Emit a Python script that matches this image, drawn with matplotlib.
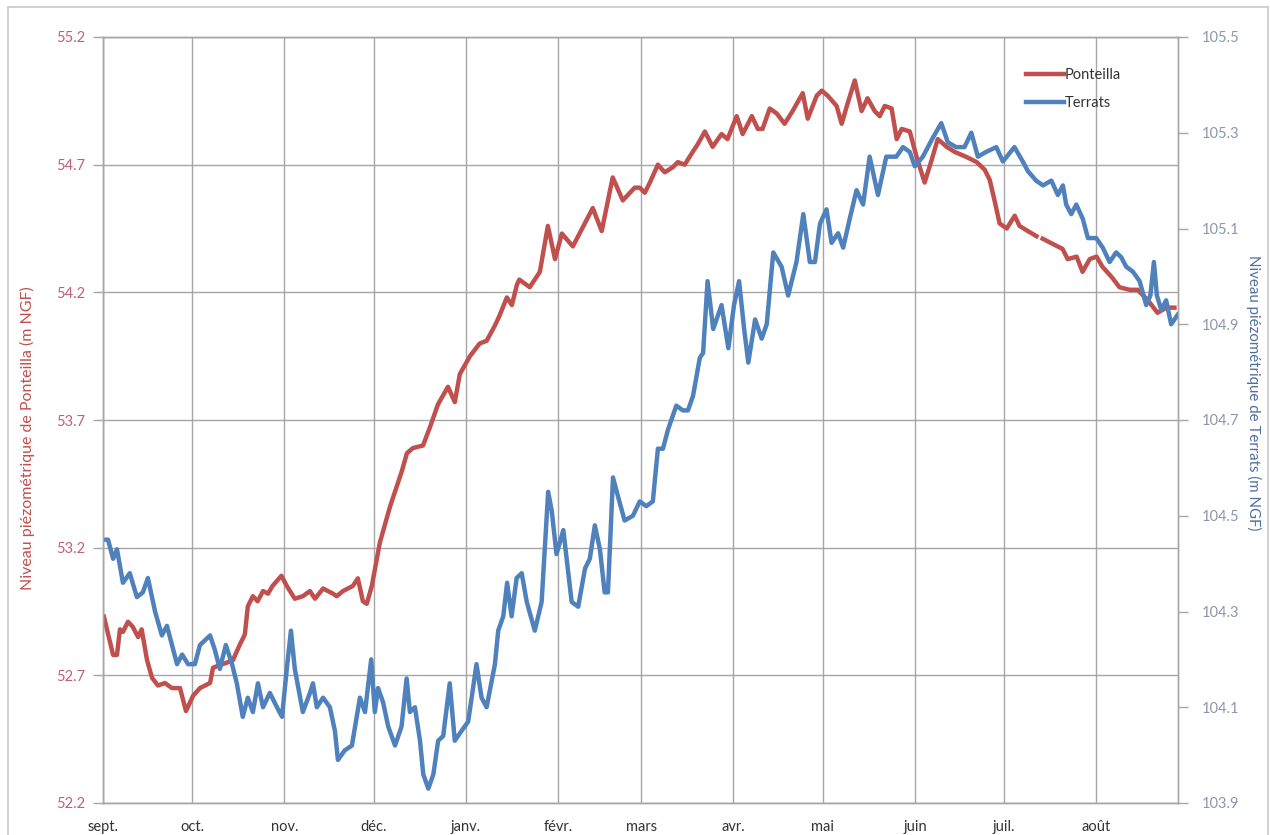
import numpy as np
import matplotlib
matplotlib.use("Agg")
import matplotlib.pyplot as plt
from matplotlib.patches import Rectangle

# ---- data (day offset from 1 Sept, value) ----
month_days = [0, 30, 61, 91, 122, 153, 181, 212, 242, 273, 303, 334]
month_labels = ["sept.", "oct.", "nov.", "déc.", "janv.", "févr.", "mars",
                "avr.", "mai", "juin", "juil.", "août"]

pont_days = [0.3, 3.4, 4.7, 5.7, 6.7, 8.4, 10, 11.8, 13, 14.8, 16.5, 18.5, 20.8,
             23.2, 25.9, 27.9, 30.3, 32.6, 36, 37, 39.3, 41.7, 43.7, 46, 47.7,
             48.7, 50.4, 52, 53.8, 55.5, 57, 60, 61.8, 64.5, 67.2, 69.6, 71.3,
             74, 77.3, 78.6, 80.7, 84, 85.7, 87.4, 88.7, 90.4, 93.1, 96.5, 100.5,
             102.2, 104.2, 107.6, 109.9, 112.6, 116, 118.3, 120, 123.4, 126.7,
             129, 131.8, 133.4, 135.8, 137.5, 139.2, 140, 143.5, 146.9, 149.6,
             152, 154.3, 158, 164.7, 167.7, 171.4, 174.8, 178.8, 180.5, 182.2,
             183.9, 186.6, 188.9, 191.6, 193.3, 195.6, 198.3, 200, 202.4, 205,
             208, 210, 213.1, 215.1, 218.2, 220.2, 221.8, 224.2, 226.6, 229.2,
             231.9, 235.3, 237, 240, 241.7, 243.7, 246.7, 248.4, 250.4, 252.8,
             255.1, 257.1, 259.5, 261.2, 262.9, 265.2, 266.9, 268.6, 271.3,
             273.6, 276.3, 278.7, 280.7, 283.7, 286.4, 290.4, 293.8, 296.5,
             298.2, 299.8, 301.5, 303.9, 306.6, 308.2, 311, 313.9, 315, 316,
             319.3, 322.7, 324.4, 327.4, 329.4, 331.8, 334.1, 336.1, 339.2,
             341.8, 345.2, 347.9, 351.3, 354.6, 357.6, 360.3]
pont_vals = [52.93, 52.78, 52.78, 52.88, 52.87, 52.91, 52.89, 52.85, 52.88, 52.76,
             52.69, 52.66, 52.67, 52.65, 52.65, 52.56, 52.62, 52.65, 52.67, 52.73,
             52.74, 52.75, 52.76, 52.82, 52.86, 52.97, 53.01, 52.99, 53.03, 53.02,
             53.05, 53.09, 53.05, 53.00, 53.01, 53.03, 53.00, 53.04, 53.02, 53.01,
             53.03, 53.05, 53.08, 52.99, 52.98, 53.05, 53.22, 53.36, 53.50, 53.57,
             53.59, 53.60, 53.67, 53.76, 53.83, 53.77, 53.88, 53.95, 54.00, 54.01,
             54.07, 54.11, 54.18, 54.15, 54.23, 54.25, 54.22, 54.28, 54.46, 54.33,
             54.43, 54.38, 54.53, 54.44, 54.65, 54.56, 54.61, 54.61, 54.59, 54.63,
             54.70, 54.67, 54.69, 54.71, 54.70, 54.75, 54.78, 54.83, 54.77, 54.82,
             54.80, 54.89, 54.82, 54.89, 54.84, 54.84, 54.92, 54.90, 54.86, 54.91,
             54.98, 54.88, 54.97, 54.99, 54.97, 54.93, 54.86, 54.94, 55.03, 54.91,
             54.96, 54.91, 54.89, 54.93, 54.92, 54.80, 54.84, 54.83, 54.73, 54.63,
             54.72, 54.80, 54.77, 54.75, 54.73, 54.71, 54.68, 54.64, 54.56, 54.47,
             54.45, 54.50, 54.46, 54.44, 54.42, np.nan, 54.41, 54.39, 54.37, 54.33,
             54.34, 54.28, 54.33, 54.34, 54.30, 54.26, 54.22, 54.21, 54.21, 54.17,
             54.12, 54.14, 54.14]

terr_days = [0.3, 1.7, 3.4, 4.7, 6.7, 9, 11.4, 13.4, 15.1, 17.5, 19.8, 21.5, 23.2,
             24.9, 26.6, 28.6, 30.9, 32.6, 36, 37.6, 39.3, 41.3, 43.4, 45, 47,
             48.7, 50.4, 52.1, 53.8, 56.1, 58.5, 60.2, 61.8, 63.2, 64.5, 67.2,
             69.6, 70.6, 71.9, 74, 76.3, 78, 79, 81.3, 83.7, 86.4, 88.1, 90.2,
             91.4, 92.5, 94.2, 95.9, 98.2, 100.4, 102.1, 103.2, 104.9, 106.6,
             107.7, 109.4, 111.1, 112.7, 114.4, 116.6, 118.3, 120.5, 122.8, 125.6,
             127.3, 129, 131.8, 132.9, 134.6, 135.9, 137.4, 139.1, 140.8, 142.5,
             145.2, 147.5, 149.7, 150.9, 152.5, 154.8, 157.6, 159.8, 162.1, 163.7,
             165.4, 167.1, 168.7, 169.8, 171.5, 173.2, 175.4, 178.2, 180.5, 182.7,
             184.9, 186.6, 188.3, 190, 192.8, 195, 196.7, 198.4, 200.7, 201.8,
             203.3, 205.2, 208, 210.3, 212.2, 213.9, 215.6, 217, 219.3, 221.5,
             223.2, 225.4, 228.2, 230.4, 233.2, 235.5, 237.7, 239.4, 241.1, 243.3,
             245, 247.2, 248.9, 251.1, 253.4, 255.6, 257.8, 260.6, 263.4, 266.8,
             269, 271.3, 273, 275.7, 279.1, 281.9, 284.1, 286.9, 289.7, 292,
             294.2, 297, 300.4, 302.6, 306.5, 309.3, 311, 313.8, 316.1, 318.9,
             321.1, 322.8, 323.9, 325.6, 327.3, 329.5, 331.2, 334, 336.2, 338.5,
             340.7, 342.4, 344.1, 346.3, 348.6, 350.8, 352.2, 353.4, 354.4, 355.9,
             357.5, 359.2, 361.4]
terr_vals = [104.45, 104.45, 104.41, 104.43, 104.36, 104.38, 104.33, 104.34, 104.37,
             104.30, 104.25, 104.27, 104.23, 104.19, 104.21, 104.19, 104.19, 104.23,
             104.25, 104.22, 104.18, 104.23, 104.19, 104.15, 104.08, 104.12, 104.09,
             104.15, 104.10, 104.13, 104.10, 104.08, 104.18, 104.26, 104.18, 104.09,
             104.13, 104.15, 104.10, 104.12, 104.10, 104.05, 103.99, 104.01, 104.02,
             104.12, 104.09, 104.20, 104.09, 104.14, 104.11, 104.06, 104.02, 104.06,
             104.16, 104.09, 104.10, 104.03, 103.96, 103.93, 103.96, 104.03, 104.04,
             104.15, 104.03, 104.05, 104.07, 104.19, 104.12, 104.10, 104.19, 104.26,
             104.29, 104.36, 104.29, 104.37, 104.38, 104.32, 104.26, 104.32, 104.55,
             104.51, 104.42, 104.47, 104.32, 104.31, 104.39, 104.41, 104.48, 104.43,
             104.34, 104.34, 104.58, 104.54, 104.49, 104.50, 104.53, 104.52, 104.53,
             104.64, 104.64, 104.68, 104.73, 104.72, 104.72, 104.75, 104.83, 104.84,
             104.99, 104.89, 104.94, 104.85, 104.94, 104.99, 104.89, 104.82, 104.91,
             104.87, 104.90, 105.05, 105.02, 104.96, 105.03, 105.13, 105.03, 105.03,
             105.11, 105.14, 105.07, 105.09, 105.06, 105.12, 105.18, 105.15, 105.25,
             105.17, 105.25, 105.25, 105.27, 105.26, 105.23, 105.25, 105.29, 105.32,
             105.28, 105.27, 105.27, 105.30, 105.25, 105.26, 105.27, 105.24, 105.27,
             105.24, 105.22, 105.20, 105.19, 105.20, 105.17, 105.19, 105.15, 105.13,
             105.15, 105.12, 105.08, 105.08, 105.06, 105.03, 105.05, 105.04, 105.02,
             105.01, 104.99, 104.94, 104.96, 105.03, 104.96, 104.93, 104.95, 104.90,
             104.92]

left_ticks = [52.2, 52.7, 53.2, 53.7, 54.2, 54.7, 55.2]
right_ticks = [103.9, 104.1, 104.3, 104.5, 104.7, 104.9, 105.1, 105.3, 105.5]

# ---- styling ----
plt.rcParams['font.family'] = ['Lato', 'DejaVu Sans']
RED = '#C0504D'
BLUE = '#4F81BD'
GRID = '#A6A6A6'

W, H = 1270, 835
fig = plt.figure(figsize=(W / 100, H / 100), dpi=100)
fig.patch.set_facecolor('white')
ax = fig.add_axes([103 / W, 1 - 803 / H, (1178 - 103) / W, (803 - 37) / H])
ax2 = ax.twinx()

l1, = ax.plot(pont_days, pont_vals, color=RED, lw=3.2, solid_joinstyle='round',
              label='Ponteilla')
l2, = ax2.plot(terr_days, terr_vals, color=BLUE, lw=3.2, solid_joinstyle='round',
               label='Terrats')

ax.set_xlim(0, 361.5)
ax.set_ylim(52.2, 55.2)
ax2.set_ylim(103.9, 105.5)

ax.set_xticks(month_days)
ax.set_xticklabels(month_labels, fontsize=10.5, color='#333333')
ax.set_yticks(left_ticks)
ax.set_yticklabels([f"{v:.1f}" for v in left_ticks], fontsize=10.5, color='#C0607A')
ax2.set_yticks(right_ticks)
ax2.set_yticklabels([f"{v:.1f}" for v in right_ticks], fontsize=10.5, color='#8A98AE')

ax.tick_params(axis='x', length=0, pad=12)
ax.tick_params(axis='y', length=7, width=1, color=GRID, pad=6)
ax2.tick_params(axis='y', length=7, width=1, color=GRID, pad=10)

ax.grid(True, color=GRID, lw=1)
ax.set_axisbelow(True)
for a in (ax, ax2):
    for s in a.spines.values():
        s.set_color(GRID)
        s.set_linewidth(1)

ax.set_ylabel("Niveau piézométrique de Ponteilla (m NGF)", color=RED, fontsize=11.5)
ax2.set_ylabel("Niveau piézométrique de Terrats (m NGF)", color='#4F6F9F', fontsize=10.8,
               rotation=270)
ax.yaxis.set_label_coords(35 / W, 1 - 438 / H, transform=fig.transFigure)
ax2.yaxis.set_label_coords(1261 / W, 1 - 393 / H, transform=fig.transFigure)

ax.legend(handles=[l1, l2], loc='upper left',
          bbox_to_anchor=(1013 / W, 1 - 55 / H), bbox_transform=fig.transFigure,
          frameon=False, handlelength=2.6, handletextpad=0.05, fontsize=10.5,
          labelspacing=0.95, labelcolor='#333333')

fig.patches.append(Rectangle((8 / W, -0.05), (1268 - 8) / W, 1.05 - 7 / H,
                             transform=fig.transFigure, fill=False,
                             edgecolor='#C8C8C8', lw=1.2))

fig.savefig("out.png", dpi=100)
